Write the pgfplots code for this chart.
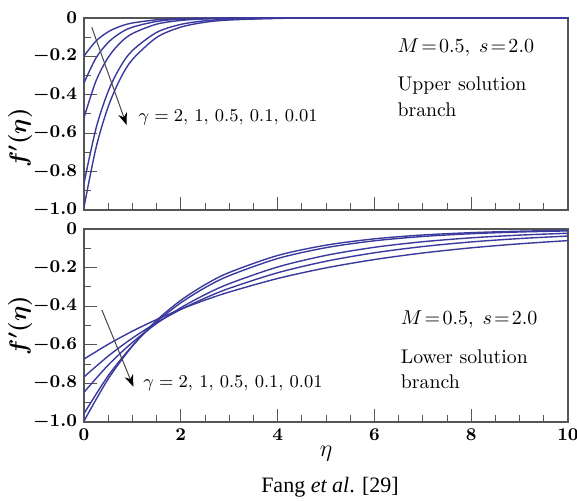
\documentclass[border=0pt]{standalone}
\usepackage{fontspec}
\usepackage{pgfplots}
\pgfplotsset{compat=1.18}
\usetikzlibrary{arrows.meta}
\newfontfamily\timesfont{Liberation Serif}
\definecolor{curveblue}{RGB}{58,58,158}
\definecolor{framegray}{RGB}{85,85,85}

\pgfplotsset{
  branch/.style={
    scale only axis, width=242pt,
    xmin=0, xmax=10, ymin=-1, ymax=0,
    xtick={0,2,4,6,8,10}, minor x tick num=3,
    ytick={-1,-0.8,-0.6,-0.4,-0.2,0}, minor y tick num=1,
    yticklabels={$-1.0$,$-0.8$,$-0.6$,$-0.4$,$-0.2$,$0$},
    xtick pos=bottom, ytick pos=left, tick align=inside,
    major tick length=6.5pt, minor tick length=3.5pt,
    every tick/.style={framegray, line width=0.5pt},
    axis line style={framegray, line width=0.6pt},
    ticklabel style={font=\fontsize{9.4}{11}\selectfont\boldmath},
    ylabel={$f'(\eta)$},
    ylabel style={font=\fontsize{12}{14}\selectfont\boldmath, rotate=0},
    cycle list={curveblue,line width=0.7pt,smooth,mark=none\\},
  },
}
\tikzset{
  note/.style={font=\fontsize{9.2}{11}\selectfont, anchor=west, inner sep=0pt},
  side/.style={font=\fontsize{9.9}{12}\selectfont, anchor=west, inner sep=0pt},
  pointer/.style={gray!55!black, line width=0.5pt, -{Stealth[length=6pt,width=4.5pt,black]}},
}

\begin{document}
\begin{tikzpicture}
% upper solution branch
\begin{axis}[branch, height=96pt, at={(0,106pt)}, anchor=south west,
  xticklabels={},
  ylabel style={at={(axis description cs:-0.132,0.375)}, anchor=center}]
\addplot coordinates {(0,-0.198)(0.25,-0.1194)(0.5,-0.0719)(0.75,-0.0434)(1,-0.0261)(1.5,-0.0095)(2,-0.0034)(3,-0.0005)(4,-0.0001)(10,0)};
\addplot coordinates {(0,-0.338)(0.25,-0.2073)(0.5,-0.1272)(0.75,-0.0780)(1,-0.0479)(1.5,-0.0180)(2,-0.0068)(3,-0.0010)(4,-0.0001)(10,0)};
\addplot coordinates {(0,-0.519)(0.25,-0.3264)(0.5,-0.2053)(0.75,-0.1291)(1,-0.0812)(1.5,-0.0321)(2,-0.0127)(2.5,-0.0050)(3,-0.0020)(4,-0.0003)(10,0)};
\addplot coordinates {(0,-0.860)(0.25,-0.5730)(0.5,-0.3818)(0.75,-0.2544)(1,-0.1695)(1.5,-0.0752)(2,-0.0334)(2.5,-0.0148)(3,-0.0066)(4,-0.0013)(5,-0.0003)(10,0)};
\addplot coordinates {(0,-0.985)(0.25,-0.6743)(0.5,-0.4619)(0.75,-0.3163)(1,-0.2165)(1.5,-0.1015)(2,-0.0476)(2.5,-0.0223)(3,-0.0105)(4,-0.0023)(5,-0.0005)(10,0)};
\draw[pointer] (axis cs:0.16,-0.048) -- (axis cs:0.88,-0.557);
\node[note] at (axis cs:1.12,-0.52) {$\gamma = 2,\,1,\,0.5,\,0.1,\,0.01$};
\node[side] at (axis cs:6.47,-0.155) {$M\!=\!0.5,\; s\!=\!2.0$};
\node[side] at (axis cs:6.47,-0.35) {Upper solution};
\node[side] at (axis cs:6.47,-0.48) {branch};
\end{axis}

% lower solution branch
\begin{axis}[branch, height=96.5pt, at={(0,0)}, anchor=south west,
  xlabel={$\eta$},
  xlabel style={font=\fontsize{12}{14}\selectfont, at={(axis description cs:0.5,-0.09)}, anchor=north},
  ylabel style={at={(axis description cs:-0.132,0.5)}, anchor=center}]
\addplot coordinates {(0,-0.674)(0.5,-0.5974)(1,-0.5294)(1.5,-0.4692)(2,-0.4158)(2.5,-0.3685)(3,-0.3266)(4,-0.2565)(5,-0.2015)(6,-0.1583)(7,-0.1243)(8,-0.0976)(9,-0.0767)(10,-0.0602)};
\addplot coordinates {(0,-0.7666)(0.5,-0.6584)(1,-0.5654)(1.5,-0.4856)(2,-0.4170)(2.5,-0.3581)(3,-0.3075)(4,-0.2268)(5,-0.1672)(6,-0.1233)(7,-0.0910)(8,-0.0671)(9,-0.0495)(10,-0.0365)};
\addplot coordinates {(0,-0.846)(0.5,-0.7051)(1,-0.5876)(1.5,-0.4897)(2,-0.4081)(2.5,-0.3401)(3,-0.2834)(4,-0.1969)(5,-0.1367)(6,-0.0949)(7,-0.0660)(8,-0.0458)(9,-0.0318)(10,-0.0221)};
\addplot coordinates {(0,-0.956)(0.5,-0.7603)(1,-0.6048)(1.5,-0.4810)(2,-0.3825)(2.5,-0.3042)(3,-0.2420)(4,-0.1531)(5,-0.0968)(6,-0.0612)(7,-0.0387)(8,-0.0245)(9,-0.0155)(10,-0.0098)};
\addplot coordinates {(0,-0.995)(0.5,-0.7768)(1,-0.6065)(1.5,-0.4735)(2,-0.3697)(2.5,-0.2887)(3,-0.2254)(4,-0.1374)(5,-0.0838)(6,-0.0511)(7,-0.0311)(8,-0.0190)(9,-0.0115)(10,-0.0070)};
\draw[pointer] (axis cs:0.37,-0.42) -- (axis cs:1.02,-0.817);
\node[note] at (axis cs:1.22,-0.80) {$\gamma = 2,\,1,\,0.5,\,0.1,\,0.01$};
\node[side] at (axis cs:6.54,-0.47) {$M\!=\!0.5,\; s\!=\!2.0$};
\node[side] at (axis cs:6.54,-0.66) {Lower solution};
\node[side] at (axis cs:6.54,-0.79) {branch};
\end{axis}

\node[font=\timesfont\fontsize{11}{13}\selectfont] at (123pt,-32.5pt) {Fang \textit{et al}. [29]};
\pgfresetboundingbox
\path[use as bounding box] (-42pt,-39.5pt) rectangle (246.5pt,211pt);
\end{tikzpicture}
\end{document}
